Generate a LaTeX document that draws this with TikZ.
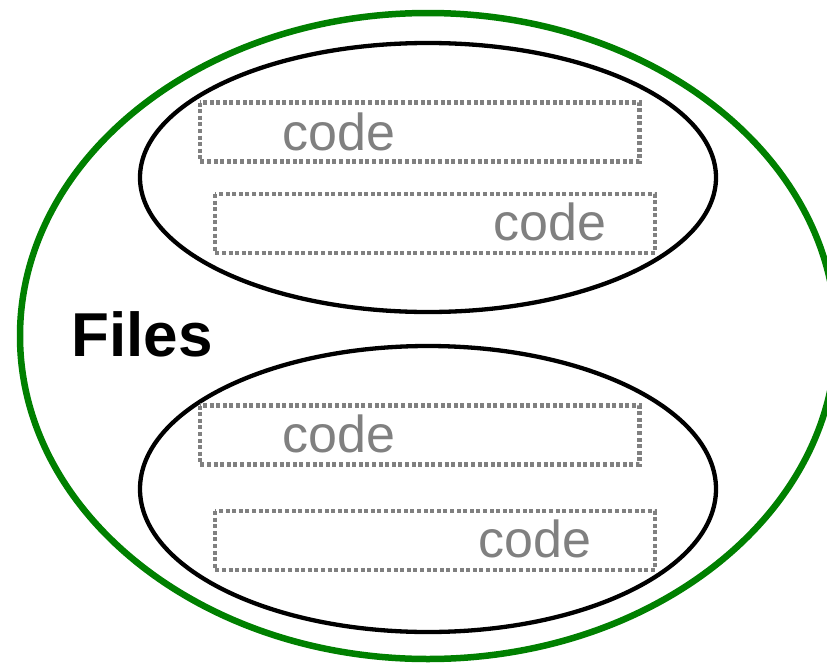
\documentclass[tikz,border=0pt]{standalone}
\usepackage{fontspec}
\setmainfont{Liberation Sans}
\definecolor{fgreen}{RGB}{0,128,0}
\definecolor{fgray}{RGB}{128,128,128}
\begin{document}
\begin{tikzpicture}[x=1pt,y=-1pt,
  outer/.style={draw=fgreen,line width=6.5pt},
  inner/.style={draw=black,line width=4.3pt},
  codebox/.style={draw=fgray,line width=4.2pt,dash pattern=on 4pt off 2.6pt},
  codetext/.style={text=fgray,font=\fontsize{52}{52}\selectfont,anchor=base west,inner sep=0pt}]
\useasboundingbox (0,0) rectangle (827,664);
\begin{scope}
\clip (0,0) rectangle (827,664);
\draw[outer] (428,336) ellipse [x radius=408, y radius=323];
\end{scope}
\draw[inner] (428,177.5) ellipse [x radius=288, y radius=134.5];
\draw[inner] (428,489) ellipse [x radius=288, y radius=143];
\draw[codebox] (200,102.5) rectangle (639.5,161.5);
\draw[codebox] (215,194) rectangle (655,253);
\draw[codebox] (200,405.5) rectangle (639.5,464.5);
\draw[codebox] (215,511) rectangle (655,570);
\node[codetext] (c1) at (282,150) {code};
\node[codetext] (c2) at (493,240) {code};
\node[codetext] (c3) at (282,452) {code};
\node[codetext] (c4) at (478,557) {code};
\node[font=\fontsize{62}{62}\selectfont\bfseries,anchor=base west,inner sep=0pt] (files) at (71,356) {Files};
\end{tikzpicture}
\end{document}
